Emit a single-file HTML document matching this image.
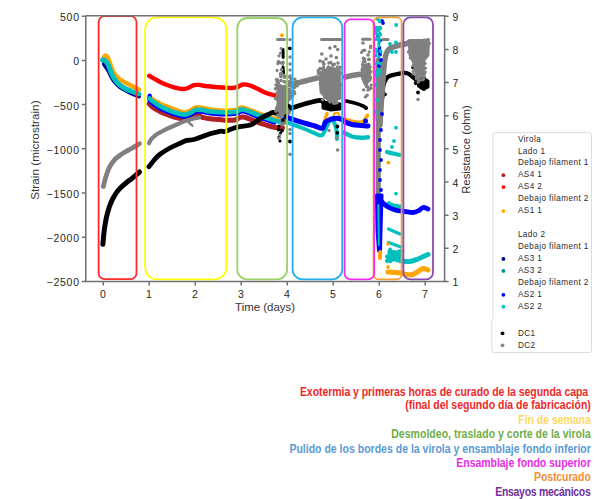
<!DOCTYPE html>
<html><head><meta charset="utf-8">
<style>
html,body{margin:0;padding:0;background:#fff;}
body{width:600px;height:499px;overflow:hidden;position:relative;font-family:"Liberation Sans",sans-serif;}
svg{position:absolute;left:0;top:0;}
.cap{position:absolute;right:10px;white-space:nowrap;font-weight:bold;font-size:11px;text-align:right;}
</style></head><body>
<svg width="600" height="499" viewBox="0 0 600 499">

<g><path d="M149.2 103.7 C149.8 104.3 151.2 106.2 153.0 107.5 C154.8 108.8 157.7 110.3 160.0 111.5 C162.3 112.7 164.5 113.5 167.0 114.5 C169.5 115.5 172.0 116.6 175.0 117.4 C178.0 118.2 182.3 119.1 185.0 119.2 C187.7 119.3 189.0 118.4 191.0 117.8 C193.0 117.2 195.0 115.5 197.0 115.5 C199.0 115.5 200.8 117.0 203.0 117.5 C205.2 118.0 207.2 118.5 210.0 118.8 C212.8 119.1 217.2 119.3 220.0 119.6 C222.8 119.8 224.5 120.2 227.0 120.3 C229.5 120.4 232.3 120.5 235.0 120.0 C237.7 119.5 238.8 116.5 243.0 117.0 C247.2 117.5 254.8 121.3 260.0 123.0 C265.2 124.7 270.2 126.4 274.0 127.2 C277.8 128.0 281.2 127.8 282.6 127.9" fill="none" stroke="#b22222" stroke-width="5" stroke-linecap="round" stroke-linejoin="round"/>
<path d="M149.2 75.8 C150.5 76.5 154.4 78.9 157.0 80.3 C159.6 81.7 162.0 83.1 165.0 84.3 C168.0 85.5 172.0 86.8 175.0 87.6 C178.0 88.4 180.8 88.9 183.0 89.0 C185.2 89.1 186.2 88.6 188.0 88.0 C189.8 87.4 192.2 85.7 194.0 85.2 C195.8 84.7 197.2 84.8 199.0 84.9 C200.8 85.0 202.3 85.7 205.0 86.0 C207.7 86.3 211.4 86.7 215.0 87.0 C218.6 87.3 223.9 87.6 226.7 87.8 C229.5 88.0 230.3 88.1 232.0 88.0 C233.7 87.9 235.1 87.8 237.0 87.2 C238.9 86.6 241.0 84.7 243.2 84.4 C245.4 84.1 247.8 84.8 250.0 85.5 C252.2 86.2 253.8 87.0 256.5 88.3 C259.2 89.5 263.1 91.8 266.1 93.0 C269.1 94.2 273.1 94.9 274.5 95.3" fill="none" stroke="#ff0000" stroke-width="4.4" stroke-linecap="round" stroke-linejoin="round"/>
<path d="M103.0 58.5 C103.4 58.0 104.7 55.6 105.5 55.5 C106.3 55.4 107.1 56.2 108.0 58.0 C108.9 59.8 110.0 63.5 111.0 66.0 C112.0 68.5 112.5 70.8 114.0 73.0 C115.5 75.2 117.3 77.5 120.0 79.5 C122.7 81.5 126.8 83.3 130.0 85.0 C133.2 86.7 137.5 88.8 139.0 89.5" fill="none" stroke="#ffa500" stroke-width="4.4" stroke-linecap="round" stroke-linejoin="round"/>
<path d="M149.5 96.5 C150.1 97.0 151.2 98.3 153.0 99.5 C154.8 100.7 157.7 102.3 160.0 103.5 C162.3 104.7 164.5 105.5 167.0 106.5 C169.5 107.5 172.0 108.5 175.0 109.5 C178.0 110.5 182.3 112.2 185.0 112.3 C187.7 112.4 189.2 110.8 191.0 110.0 C192.8 109.2 194.0 107.7 196.0 107.3 C198.0 106.9 200.7 107.5 203.0 107.8 C205.3 108.1 206.0 108.8 210.0 109.3 C214.0 109.8 222.5 110.5 227.0 110.5 C231.5 110.5 234.3 110.0 237.0 109.5 C239.7 109.0 239.4 106.8 243.2 107.5 C247.0 108.2 255.2 112.0 260.0 113.7 C264.8 115.5 269.2 117.1 272.0 118.0 C274.8 118.9 276.2 118.8 277.0 119.0" fill="none" stroke="#ffa500" stroke-width="4.2" stroke-linecap="round" stroke-linejoin="round"/>
<path d="M104.0 64.0 C104.7 65.0 106.8 68.0 108.0 70.0 C109.2 72.0 110.0 74.2 111.0 76.0 C112.0 77.8 112.5 79.2 114.0 81.0 C115.5 82.8 117.3 85.1 120.0 87.0 C122.7 88.9 126.8 91.0 130.0 92.5 C133.2 94.0 137.5 95.7 139.0 96.3" fill="none" stroke="#00008b" stroke-width="4.2" stroke-linecap="round" stroke-linejoin="round"/>
<path d="M149.7 95.5 C149.7 96.3 148.9 99.1 149.5 100.5 C150.1 101.9 151.2 102.7 153.0 104.0 C154.8 105.3 157.7 107.2 160.0 108.5 C162.3 109.8 164.5 110.5 167.0 111.5 C169.5 112.5 172.0 113.6 175.0 114.5 C178.0 115.4 182.3 116.8 185.0 116.8 C187.7 116.8 189.2 115.3 191.0 114.5 C192.8 113.7 194.0 112.2 196.0 111.8 C198.0 111.4 200.7 111.8 203.0 112.0 C205.3 112.2 206.0 112.9 210.0 113.3 C214.0 113.7 222.5 114.5 227.0 114.5 C231.5 114.5 234.3 114.0 237.0 113.5 C239.7 113.0 239.4 110.8 243.2 111.5 C247.0 112.2 254.8 115.9 260.0 117.7 C265.2 119.5 272.1 121.7 274.5 122.5" fill="none" stroke="#0000ff" stroke-width="4.2" stroke-linecap="round" stroke-linejoin="round"/>
<path d="M102.5 60.0 C102.9 60.1 104.1 59.8 105.0 60.5 C105.9 61.2 107.1 62.8 108.0 64.5 C108.9 66.2 109.6 68.8 110.5 71.0 C111.4 73.2 112.2 75.4 113.5 77.5 C114.8 79.6 116.1 81.7 118.0 83.5 C119.9 85.3 122.7 87.2 125.0 88.5 C127.3 89.8 129.7 90.6 132.0 91.5 C134.3 92.4 137.8 93.6 139.0 94.0" fill="none" stroke="#00bfbf" stroke-width="5" stroke-linecap="round" stroke-linejoin="round"/>
<path d="M149.5 98.5 C150.1 99.0 151.2 100.2 153.0 101.5 C154.8 102.8 157.7 105.0 160.0 106.3 C162.3 107.6 164.5 108.5 167.0 109.5 C169.5 110.5 172.0 111.6 175.0 112.5 C178.0 113.4 182.3 114.8 185.0 114.8 C187.7 114.8 189.2 113.3 191.0 112.5 C192.8 111.7 194.0 110.2 196.0 109.8 C198.0 109.4 200.7 109.7 203.0 110.0 C205.3 110.3 206.0 111.1 210.0 111.5 C214.0 111.9 222.5 112.5 227.0 112.5 C231.5 112.5 234.3 112.0 237.0 111.5 C239.7 111.0 239.4 108.8 243.2 109.5 C247.0 110.2 254.8 113.9 260.0 115.7 C265.2 117.5 270.8 119.5 274.5 120.5 C278.2 121.5 280.8 121.8 282.0 122.0" fill="none" stroke="#00bfbf" stroke-width="4.6" stroke-linecap="round" stroke-linejoin="round"/>
<path d="M324.0 127.0 C324.2 125.5 325.0 120.2 325.5 118.0 C326.0 115.8 326.8 114.2 327.0 113.5" fill="none" stroke="#ffa500" stroke-width="3.4" stroke-linecap="round" stroke-linejoin="round"/>
<circle cx="336.5" cy="115.5" r="2.8" fill="none" stroke="#ffa500" stroke-width="2"/>
<path d="M345.0 119.0 C346.0 119.3 349.2 120.5 351.0 121.0 C352.8 121.5 354.2 121.8 356.0 122.0 C357.8 122.2 360.4 122.6 362.0 122.0 C363.6 121.4 364.6 119.6 365.5 118.5 C366.4 117.4 367.2 116.0 367.5 115.5" fill="none" stroke="#ffa500" stroke-width="3.6" stroke-linecap="round" stroke-linejoin="round"/>
<path d="M285.0 121.5 C286.4 122.0 289.9 123.5 293.4 124.8 C296.9 126.1 302.4 128.1 306.0 129.5 C309.6 130.9 312.3 132.4 315.0 133.4 C317.7 134.4 320.2 136.2 322.0 135.3 C323.8 134.4 324.5 130.7 326.0 128.0 C327.5 125.3 329.7 120.0 331.0 119.0 C332.3 118.0 333.1 120.2 334.0 122.0 C334.9 123.8 336.0 127.2 336.5 130.0 C337.0 132.8 336.9 137.5 337.0 139.0" fill="none" stroke="#00bfbf" stroke-width="4.0" stroke-linecap="round" stroke-linejoin="round"/>
<path d="M344.0 132.5 C345.3 133.2 349.0 135.6 352.0 136.5 C355.0 137.4 359.3 137.7 362.0 137.8 C364.7 137.9 367.0 137.4 368.0 137.3" fill="none" stroke="#00bfbf" stroke-width="4.4" stroke-linecap="round" stroke-linejoin="round"/>
<path d="M285.0 116.6 C286.4 117.1 289.9 118.4 293.4 119.6 C296.9 120.8 302.4 122.4 306.0 123.5 C309.6 124.6 312.2 125.2 315.0 126.0 C317.8 126.8 320.8 129.0 322.5 128.3 C324.2 127.6 324.2 123.5 325.5 122.0 C326.8 120.5 328.1 120.1 330.0 119.5 C331.9 118.9 334.8 118.2 337.0 118.3 C339.2 118.4 341.7 119.4 343.0 120.0 C344.3 120.6 343.5 121.2 345.0 122.0 C346.5 122.8 349.2 123.9 352.0 124.5 C354.8 125.1 359.3 125.2 362.0 125.5 C364.7 125.8 367.0 125.9 368.0 126.0" fill="none" stroke="#0000ff" stroke-width="5.0" stroke-linecap="round" stroke-linejoin="round"/>
<circle cx="365.5" cy="121.0" r="2.5" fill="#0000ff"/>
<path d="M102.9 244.2 C103.1 241.8 103.7 234.4 104.3 230.0 C104.9 225.6 105.5 221.8 106.3 218.0 C107.1 214.2 108.2 210.3 109.3 207.0 C110.4 203.7 111.5 201.1 113.0 198.3 C114.5 195.6 116.0 192.9 118.0 190.5 C120.0 188.1 122.7 185.8 125.0 183.8 C127.3 181.8 129.6 180.3 132.0 178.3 C134.4 176.3 138.2 173.1 139.5 172.0" fill="none" stroke="#000000" stroke-width="5" stroke-linecap="round" stroke-linejoin="round"/>
<path d="M149.0 166.7 C149.8 165.6 152.2 162.3 154.0 160.2 C155.8 158.1 157.3 156.2 160.0 154.2 C162.7 152.2 166.7 149.8 170.0 148.0 C173.3 146.2 177.3 144.5 180.0 143.3 C182.7 142.1 183.5 141.3 186.0 140.6 C188.5 139.9 191.0 140.3 195.0 139.2 C199.0 138.1 205.8 135.1 210.0 133.8 C214.2 132.5 217.5 131.7 220.0 131.3 C222.5 130.9 223.0 131.9 225.0 131.5 C227.0 131.1 229.5 129.6 232.0 128.8 C234.5 128.0 237.3 127.2 240.0 126.7 C242.7 126.2 245.8 126.0 248.0 125.5 C250.2 125.0 251.0 124.9 253.0 123.8 C255.0 122.7 257.5 120.3 260.0 118.8 C262.5 117.2 265.8 115.5 268.0 114.5 C270.2 113.5 271.5 112.7 273.0 112.5 C274.5 112.3 275.5 113.4 277.0 113.3 C278.5 113.2 280.0 112.8 282.0 112.0 C284.0 111.2 287.1 109.3 289.0 108.5 C290.9 107.7 290.6 108.2 293.4 107.4 C296.2 106.6 301.6 104.7 306.0 103.5 C310.4 102.3 317.0 100.4 320.0 100.3 C323.0 100.2 323.3 102.5 324.0 103.0" fill="none" stroke="#000000" stroke-width="4.8" stroke-linecap="round" stroke-linejoin="round"/>
<polygon points="323.0,103.0 331.0,102.0 340.0,104.0 340.0,109.0 331.0,110.0 323.0,108.0" fill="#000000" stroke="#000000" stroke-width="3" stroke-linejoin="round"/>
<path d="M346.2 101.0 C347.6 101.3 351.8 102.3 354.6 103.1 C357.4 103.9 361.1 105.2 363.0 106.0 C364.9 106.8 365.5 107.7 366.0 108.0" fill="none" stroke="#000000" stroke-width="3.6" stroke-linecap="round" stroke-linejoin="round"/>
<path d="M382.5 97.0 C382.6 95.2 382.7 89.0 383.3 86.0 C383.9 83.0 384.9 80.7 386.0 79.0 C387.1 77.3 388.5 76.5 390.0 75.8 C391.5 75.0 393.2 74.9 395.0 74.5 C396.8 74.1 399.2 73.6 400.9 73.3 C402.6 73.0 403.6 72.7 405.0 72.8 C406.4 72.9 407.6 73.2 409.0 74.0 C410.4 74.8 411.8 76.2 413.5 77.5 C415.2 78.8 417.1 80.9 419.0 82.0 C420.9 83.1 423.8 83.7 424.7 84.0" fill="none" stroke="#000000" stroke-width="4.3" stroke-linecap="round" stroke-linejoin="round"/>
<polygon points="418.5,80.0 423.5,78.5 428.0,81.0 428.0,87.0 423.0,89.0 418.5,86.0" fill="#000000" stroke="#000000" stroke-width="3" stroke-linejoin="round"/>
<circle cx="419.7" cy="79.0" r="1.7" fill="#000000"/>
<circle cx="424.4" cy="77.9" r="1.7" fill="#000000"/>
<circle cx="422.8" cy="81.8" r="1.7" fill="#000000"/>
<circle cx="415.8" cy="83.6" r="1.7" fill="#000000"/>
<circle cx="415.5" cy="82.6" r="1.7" fill="#000000"/>
<circle cx="416.0" cy="78.2" r="1.7" fill="#000000"/>
<circle cx="421.2" cy="87.7" r="1.7" fill="#000000"/>
<circle cx="416.8" cy="79.9" r="1.7" fill="#000000"/>
<circle cx="424.1" cy="89.3" r="1.7" fill="#000000"/>
<circle cx="423.4" cy="82.2" r="1.7" fill="#000000"/>
<circle cx="413.0" cy="67.5" r="1.8" fill="#000000"/>
<circle cx="282.0" cy="35.2" r="1.9" fill="#ffa500"/>
<circle cx="279.0" cy="126.0" r="1.6" fill="#000000"/>
<circle cx="283.0" cy="124.0" r="1.6" fill="#000000"/>
<circle cx="280.5" cy="133.0" r="1.6" fill="#000000"/>
<circle cx="279.0" cy="137.0" r="1.6" fill="#000000"/>
<circle cx="280.0" cy="141.0" r="1.6" fill="#000000"/>
<circle cx="278.6" cy="129.5" r="1.9" fill="#000000"/>
<circle cx="282.0" cy="130.6" r="1.9" fill="#000000"/>
<circle cx="290.0" cy="141.5" r="1.9" fill="#000000"/>
<circle cx="337.4" cy="126.5" r="1.9" fill="#000000"/>
<circle cx="337.4" cy="132.8" r="1.9" fill="#000000"/>
<circle cx="289.8" cy="48.3" r="1.9" fill="#000000"/>
<circle cx="385.0" cy="94.3" r="1.9" fill="#000000"/>
<circle cx="418.0" cy="92.5" r="1.9" fill="#000000"/>
<circle cx="366.0" cy="108.0" r="1.9" fill="#000000"/>
<polyline points="283.0,49.6 283.2,57.4" fill="none" stroke="#000000" stroke-width="3" stroke-linecap="round" stroke-linejoin="round"/>
<polyline points="283.0,67.0 283.5,73.0" fill="none" stroke="#000000" stroke-width="3" stroke-linecap="round" stroke-linejoin="round"/>
<path d="M103.4 186.5 C103.8 185.1 104.7 180.7 105.5 178.0 C106.3 175.3 107.1 172.8 108.0 170.5 C108.9 168.2 109.8 166.4 111.0 164.5 C112.2 162.6 113.5 160.9 115.0 159.3 C116.5 157.8 118.3 156.4 120.0 155.2 C121.7 154.0 123.2 153.1 125.0 152.0 C126.8 150.9 128.6 150.2 131.0 148.8 C133.4 147.4 138.1 144.6 139.5 143.8" fill="none" stroke="#808080" stroke-width="4.8" stroke-linecap="round" stroke-linejoin="round"/>
<path d="M149.0 143.2 C149.3 142.6 150.2 140.6 151.0 139.5 C151.8 138.4 152.8 137.5 154.0 136.5 C155.2 135.5 156.5 134.4 158.0 133.5 C159.5 132.6 161.0 131.8 163.0 130.8 C165.0 129.8 167.5 128.6 170.0 127.5 C172.5 126.4 175.5 125.1 178.0 124.0 C180.5 122.9 182.7 121.8 185.0 121.0 C187.3 120.2 189.7 119.6 192.0 119.0 C194.3 118.4 197.8 117.8 199.0 117.5" fill="none" stroke="#808080" stroke-width="4.2" stroke-linecap="round" stroke-linejoin="round"/>
<polyline points="188.7,122.5 192.3,125.6" fill="none" stroke="#808080" stroke-width="2.5" stroke-linecap="round" stroke-linejoin="round"/>
<polyline points="277.5,39.6 284.5,39.6" fill="none" stroke="#808080" stroke-width="3" stroke-linecap="round" stroke-linejoin="round"/>
<polyline points="321.5,39.4 341.0,39.4" fill="none" stroke="#808080" stroke-width="3" stroke-linecap="round" stroke-linejoin="round"/>
<polyline points="362.5,39.2 370.0,39.2" fill="none" stroke="#808080" stroke-width="3" stroke-linecap="round" stroke-linejoin="round"/>
<polygon points="278.0,88.0 286.0,86.0 288.0,97.0 287.0,112.0 281.0,116.0 278.0,106.0" fill="#808080" stroke="#808080" stroke-width="3" stroke-linejoin="round"/>
<circle cx="289.6" cy="89.3" r="1.7" fill="#808080"/>
<circle cx="277.5" cy="80.2" r="1.7" fill="#808080"/>
<circle cx="280.2" cy="117.3" r="1.7" fill="#808080"/>
<circle cx="278.1" cy="104.8" r="1.7" fill="#808080"/>
<circle cx="285.9" cy="93.7" r="1.7" fill="#808080"/>
<circle cx="284.3" cy="77.3" r="1.7" fill="#808080"/>
<circle cx="276.0" cy="84.9" r="1.7" fill="#808080"/>
<circle cx="286.6" cy="96.7" r="1.7" fill="#808080"/>
<circle cx="280.3" cy="105.0" r="1.7" fill="#808080"/>
<circle cx="282.7" cy="89.9" r="1.7" fill="#808080"/>
<circle cx="288.5" cy="111.0" r="1.7" fill="#808080"/>
<circle cx="279.1" cy="104.4" r="1.7" fill="#808080"/>
<circle cx="283.9" cy="120.4" r="1.7" fill="#808080"/>
<circle cx="287.4" cy="89.3" r="1.7" fill="#808080"/>
<circle cx="282.1" cy="114.1" r="1.7" fill="#808080"/>
<circle cx="277.6" cy="99.9" r="1.7" fill="#808080"/>
<circle cx="288.0" cy="104.4" r="1.7" fill="#808080"/>
<circle cx="289.9" cy="90.6" r="1.7" fill="#808080"/>
<circle cx="286.8" cy="105.5" r="1.7" fill="#808080"/>
<circle cx="284.9" cy="98.2" r="1.7" fill="#808080"/>
<circle cx="283.1" cy="109.2" r="1.7" fill="#808080"/>
<circle cx="276.0" cy="111.2" r="1.7" fill="#808080"/>
<circle cx="289.0" cy="89.1" r="1.7" fill="#808080"/>
<circle cx="281.6" cy="109.4" r="1.7" fill="#808080"/>
<circle cx="275.4" cy="98.5" r="1.7" fill="#808080"/>
<circle cx="277.9" cy="80.2" r="1.7" fill="#808080"/>
<circle cx="277.2" cy="87.1" r="1.7" fill="#808080"/>
<circle cx="281.6" cy="120.2" r="1.7" fill="#808080"/>
<circle cx="276.4" cy="97.8" r="1.7" fill="#808080"/>
<circle cx="284.3" cy="120.8" r="1.7" fill="#808080"/>
<circle cx="279.7" cy="96.0" r="1.7" fill="#808080"/>
<circle cx="281.1" cy="120.9" r="1.7" fill="#808080"/>
<circle cx="278.0" cy="86.3" r="1.7" fill="#808080"/>
<circle cx="279.0" cy="99.7" r="1.7" fill="#808080"/>
<circle cx="285.0" cy="87.9" r="1.7" fill="#808080"/>
<circle cx="281.3" cy="104.0" r="1.7" fill="#808080"/>
<circle cx="283.8" cy="106.7" r="1.7" fill="#808080"/>
<circle cx="286.5" cy="76.9" r="1.7" fill="#808080"/>
<circle cx="281.7" cy="95.1" r="1.7" fill="#808080"/>
<circle cx="276.8" cy="107.6" r="1.7" fill="#808080"/>
<circle cx="278.5" cy="82.6" r="1.7" fill="#808080"/>
<circle cx="280.8" cy="76.8" r="1.7" fill="#808080"/>
<circle cx="276.7" cy="93.3" r="1.7" fill="#808080"/>
<circle cx="285.4" cy="81.9" r="1.7" fill="#808080"/>
<circle cx="279.3" cy="92.4" r="1.7" fill="#808080"/>
<circle cx="281.2" cy="80.5" r="1.7" fill="#808080"/>
<circle cx="282.9" cy="99.6" r="1.7" fill="#808080"/>
<circle cx="276.5" cy="79.4" r="1.7" fill="#808080"/>
<circle cx="280.8" cy="88.0" r="1.7" fill="#808080"/>
<circle cx="289.1" cy="82.6" r="1.7" fill="#808080"/>
<circle cx="284.0" cy="81.8" r="1.7" fill="#808080"/>
<circle cx="284.2" cy="75.4" r="1.7" fill="#808080"/>
<circle cx="289.7" cy="110.9" r="1.7" fill="#808080"/>
<circle cx="279.4" cy="93.4" r="1.7" fill="#808080"/>
<circle cx="277.8" cy="114.9" r="1.7" fill="#808080"/>
<circle cx="284.1" cy="115.3" r="1.7" fill="#808080"/>
<circle cx="280.6" cy="85.8" r="1.7" fill="#808080"/>
<circle cx="288.9" cy="113.2" r="1.7" fill="#808080"/>
<circle cx="278.9" cy="101.4" r="1.7" fill="#808080"/>
<circle cx="281.0" cy="75.5" r="1.7" fill="#808080"/>
<circle cx="275.5" cy="88.8" r="1.7" fill="#808080"/>
<circle cx="279.4" cy="110.7" r="1.7" fill="#808080"/>
<circle cx="291.3" cy="97.7" r="1.7" fill="#808080"/>
<circle cx="291.2" cy="93.3" r="1.7" fill="#808080"/>
<circle cx="278.7" cy="86.0" r="1.7" fill="#808080"/>
<circle cx="278.3" cy="84.8" r="1.7" fill="#808080"/>
<circle cx="285.6" cy="121.7" r="1.7" fill="#808080"/>
<circle cx="289.3" cy="99.4" r="1.7" fill="#808080"/>
<circle cx="286.1" cy="116.4" r="1.7" fill="#808080"/>
<circle cx="276.4" cy="109.0" r="1.7" fill="#808080"/>
<circle cx="287.8" cy="99.3" r="1.7" fill="#808080"/>
<circle cx="278.0" cy="115.8" r="1.7" fill="#808080"/>
<circle cx="280.7" cy="116.4" r="1.7" fill="#808080"/>
<circle cx="291.5" cy="95.0" r="1.7" fill="#808080"/>
<circle cx="281.8" cy="124.2" r="1.7" fill="#808080"/>
<circle cx="287.3" cy="83.0" r="1.7" fill="#808080"/>
<circle cx="277.2" cy="82.0" r="1.7" fill="#808080"/>
<circle cx="281.0" cy="103.1" r="1.7" fill="#808080"/>
<circle cx="284.0" cy="123.5" r="1.7" fill="#808080"/>
<circle cx="282.4" cy="120.2" r="1.7" fill="#808080"/>
<circle cx="289.0" cy="85.2" r="1.7" fill="#808080"/>
<circle cx="279.3" cy="89.5" r="1.7" fill="#808080"/>
<circle cx="279.1" cy="105.1" r="1.7" fill="#808080"/>
<circle cx="279.4" cy="96.2" r="1.7" fill="#808080"/>
<circle cx="281.0" cy="98.3" r="1.7" fill="#808080"/>
<circle cx="289.0" cy="106.0" r="1.9" fill="#000000"/>
<circle cx="291.0" cy="108.5" r="1.9" fill="#000000"/>
<circle cx="283.0" cy="120.0" r="1.9" fill="#000000"/>
<circle cx="286.0" cy="116.0" r="1.9" fill="#000000"/>
<circle cx="281.7" cy="73.3" r="1.6" fill="#808080"/>
<circle cx="280.4" cy="73.7" r="1.6" fill="#808080"/>
<circle cx="281.0" cy="62.9" r="1.6" fill="#808080"/>
<circle cx="281.2" cy="48.5" r="1.6" fill="#808080"/>
<circle cx="280.5" cy="53.1" r="1.6" fill="#808080"/>
<circle cx="277.0" cy="70.4" r="1.6" fill="#808080"/>
<circle cx="278.4" cy="61.3" r="1.6" fill="#808080"/>
<circle cx="282.8" cy="63.6" r="1.6" fill="#808080"/>
<circle cx="279.6" cy="62.5" r="1.6" fill="#808080"/>
<circle cx="281.4" cy="70.0" r="1.6" fill="#808080"/>
<circle cx="277.8" cy="63.7" r="1.6" fill="#808080"/>
<circle cx="279.0" cy="55.8" r="1.6" fill="#808080"/>
<circle cx="283.2" cy="62.2" r="1.6" fill="#808080"/>
<circle cx="281.5" cy="69.3" r="1.6" fill="#808080"/>
<circle cx="290.0" cy="39.6" r="1.7" fill="#808080"/>
<circle cx="290.0" cy="57.0" r="1.7" fill="#808080"/>
<circle cx="290.0" cy="64.0" r="1.7" fill="#808080"/>
<circle cx="290.0" cy="70.0" r="1.7" fill="#808080"/>
<circle cx="290.0" cy="76.0" r="1.7" fill="#808080"/>
<circle cx="290.0" cy="129.5" r="1.7" fill="#808080"/>
<circle cx="290.0" cy="133.5" r="1.7" fill="#808080"/>
<circle cx="290.0" cy="154.3" r="1.7" fill="#808080"/>
<circle cx="279.6" cy="135.0" r="1.7" fill="#808080"/>
<circle cx="279.0" cy="138.5" r="1.7" fill="#808080"/>
<circle cx="337.5" cy="138.0" r="1.7" fill="#808080"/>
<circle cx="337.6" cy="150.0" r="1.7" fill="#808080"/>
<circle cx="329.0" cy="130.5" r="1.7" fill="#808080"/>
<circle cx="418.0" cy="99.5" r="1.7" fill="#808080"/>
<circle cx="297.2" cy="85.8" r="1.7" fill="#808080"/>
<circle cx="294.5" cy="87.1" r="1.7" fill="#808080"/>
<circle cx="293.6" cy="91.2" r="1.7" fill="#808080"/>
<circle cx="293.1" cy="87.7" r="1.7" fill="#808080"/>
<circle cx="297.5" cy="81.7" r="1.7" fill="#808080"/>
<circle cx="290.1" cy="85.7" r="1.7" fill="#808080"/>
<circle cx="289.7" cy="81.3" r="1.7" fill="#808080"/>
<circle cx="289.7" cy="90.7" r="1.7" fill="#808080"/>
<circle cx="290.4" cy="91.8" r="1.7" fill="#808080"/>
<circle cx="294.9" cy="79.1" r="1.7" fill="#808080"/>
<circle cx="291.0" cy="97.0" r="1.7" fill="#808080"/>
<circle cx="292.6" cy="86.7" r="1.7" fill="#808080"/>
<circle cx="290.5" cy="85.5" r="1.7" fill="#808080"/>
<circle cx="293.6" cy="83.5" r="1.7" fill="#808080"/>
<circle cx="290.8" cy="83.0" r="1.7" fill="#808080"/>
<circle cx="294.0" cy="85.7" r="1.7" fill="#808080"/>
<circle cx="289.2" cy="83.3" r="1.7" fill="#808080"/>
<circle cx="294.6" cy="87.3" r="1.7" fill="#808080"/>
<circle cx="289.6" cy="97.7" r="1.7" fill="#808080"/>
<circle cx="289.9" cy="81.8" r="1.7" fill="#808080"/>
<circle cx="289.4" cy="93.1" r="1.7" fill="#808080"/>
<circle cx="291.4" cy="78.9" r="1.7" fill="#808080"/>
<circle cx="292.8" cy="96.1" r="1.7" fill="#808080"/>
<circle cx="296.4" cy="81.7" r="1.7" fill="#808080"/>
<circle cx="290.3" cy="96.2" r="1.7" fill="#808080"/>
<circle cx="294.1" cy="91.4" r="1.7" fill="#808080"/>
<circle cx="289.8" cy="77.3" r="1.7" fill="#808080"/>
<circle cx="295.2" cy="85.4" r="1.7" fill="#808080"/>
<circle cx="289.7" cy="96.6" r="1.7" fill="#808080"/>
<circle cx="294.7" cy="93.6" r="1.7" fill="#808080"/>
<path d="M293.0 84.0 C295.0 83.5 301.0 82.0 305.0 81.0 C309.0 80.0 315.0 78.5 317.0 78.0" fill="none" stroke="#808080" stroke-width="5.5" stroke-linecap="round" stroke-linejoin="round"/>
<polygon points="320.0,73.0 330.0,68.0 339.0,70.0 340.0,98.0 330.0,102.0 321.0,92.0" fill="#808080" stroke="#808080" stroke-width="3" stroke-linejoin="round"/>
<circle cx="328.1" cy="76.2" r="1.7" fill="#808080"/>
<circle cx="330.6" cy="100.9" r="1.7" fill="#808080"/>
<circle cx="323.6" cy="67.4" r="1.7" fill="#808080"/>
<circle cx="329.9" cy="72.0" r="1.7" fill="#808080"/>
<circle cx="319.7" cy="68.8" r="1.7" fill="#808080"/>
<circle cx="318.2" cy="70.5" r="1.7" fill="#808080"/>
<circle cx="324.6" cy="74.8" r="1.7" fill="#808080"/>
<circle cx="335.6" cy="74.2" r="1.7" fill="#808080"/>
<circle cx="329.3" cy="69.5" r="1.7" fill="#808080"/>
<circle cx="335.0" cy="85.1" r="1.7" fill="#808080"/>
<circle cx="321.6" cy="81.9" r="1.7" fill="#808080"/>
<circle cx="337.1" cy="80.2" r="1.7" fill="#808080"/>
<circle cx="329.1" cy="97.1" r="1.7" fill="#808080"/>
<circle cx="326.6" cy="83.3" r="1.7" fill="#808080"/>
<circle cx="333.8" cy="103.3" r="1.7" fill="#808080"/>
<circle cx="325.4" cy="97.0" r="1.7" fill="#808080"/>
<circle cx="334.3" cy="88.7" r="1.7" fill="#808080"/>
<circle cx="326.9" cy="76.6" r="1.7" fill="#808080"/>
<circle cx="323.3" cy="68.9" r="1.7" fill="#808080"/>
<circle cx="338.3" cy="90.2" r="1.7" fill="#808080"/>
<circle cx="323.9" cy="72.2" r="1.7" fill="#808080"/>
<circle cx="324.2" cy="81.3" r="1.7" fill="#808080"/>
<circle cx="320.9" cy="80.7" r="1.7" fill="#808080"/>
<circle cx="340.8" cy="85.0" r="1.7" fill="#808080"/>
<circle cx="324.6" cy="77.0" r="1.7" fill="#808080"/>
<circle cx="328.6" cy="83.1" r="1.7" fill="#808080"/>
<circle cx="321.9" cy="83.2" r="1.7" fill="#808080"/>
<circle cx="319.2" cy="78.8" r="1.7" fill="#808080"/>
<circle cx="324.5" cy="71.8" r="1.7" fill="#808080"/>
<circle cx="331.3" cy="84.2" r="1.7" fill="#808080"/>
<circle cx="335.4" cy="89.6" r="1.7" fill="#808080"/>
<circle cx="334.5" cy="98.9" r="1.7" fill="#808080"/>
<circle cx="326.5" cy="75.7" r="1.7" fill="#808080"/>
<circle cx="334.7" cy="89.0" r="1.7" fill="#808080"/>
<circle cx="338.9" cy="88.3" r="1.7" fill="#808080"/>
<circle cx="335.0" cy="96.1" r="1.7" fill="#808080"/>
<circle cx="320.4" cy="84.0" r="1.7" fill="#808080"/>
<circle cx="329.4" cy="97.1" r="1.7" fill="#808080"/>
<circle cx="336.7" cy="96.7" r="1.7" fill="#808080"/>
<circle cx="331.3" cy="99.5" r="1.7" fill="#808080"/>
<circle cx="333.7" cy="91.1" r="1.7" fill="#808080"/>
<circle cx="320.3" cy="77.1" r="1.7" fill="#808080"/>
<circle cx="330.7" cy="88.4" r="1.7" fill="#808080"/>
<circle cx="332.3" cy="90.6" r="1.7" fill="#808080"/>
<circle cx="336.5" cy="93.4" r="1.7" fill="#808080"/>
<circle cx="329.3" cy="84.5" r="1.7" fill="#808080"/>
<circle cx="333.2" cy="64.8" r="1.7" fill="#808080"/>
<circle cx="335.1" cy="72.6" r="1.7" fill="#808080"/>
<circle cx="318.8" cy="73.2" r="1.7" fill="#808080"/>
<circle cx="334.9" cy="70.6" r="1.7" fill="#808080"/>
<circle cx="335.1" cy="103.0" r="1.7" fill="#808080"/>
<circle cx="329.1" cy="78.1" r="1.7" fill="#808080"/>
<circle cx="328.7" cy="90.7" r="1.7" fill="#808080"/>
<circle cx="335.8" cy="87.9" r="1.7" fill="#808080"/>
<circle cx="332.7" cy="65.3" r="1.7" fill="#808080"/>
<circle cx="320.6" cy="72.7" r="1.7" fill="#808080"/>
<circle cx="335.2" cy="74.8" r="1.7" fill="#808080"/>
<circle cx="330.9" cy="62.5" r="1.7" fill="#808080"/>
<circle cx="318.5" cy="73.3" r="1.7" fill="#808080"/>
<circle cx="333.5" cy="91.1" r="1.7" fill="#808080"/>
<circle cx="333.6" cy="74.2" r="1.7" fill="#808080"/>
<circle cx="329.7" cy="81.5" r="1.7" fill="#808080"/>
<circle cx="328.4" cy="67.0" r="1.7" fill="#808080"/>
<circle cx="338.9" cy="70.4" r="1.7" fill="#808080"/>
<circle cx="337.1" cy="102.7" r="1.7" fill="#808080"/>
<circle cx="328.0" cy="73.3" r="1.7" fill="#808080"/>
<circle cx="322.2" cy="86.4" r="1.7" fill="#808080"/>
<circle cx="320.5" cy="84.0" r="1.7" fill="#808080"/>
<circle cx="340.3" cy="67.6" r="1.7" fill="#808080"/>
<circle cx="337.1" cy="83.4" r="1.7" fill="#808080"/>
<circle cx="338.7" cy="91.5" r="1.7" fill="#808080"/>
<circle cx="322.7" cy="99.7" r="1.7" fill="#808080"/>
<circle cx="328.9" cy="63.0" r="1.7" fill="#808080"/>
<circle cx="328.0" cy="74.7" r="1.7" fill="#808080"/>
<circle cx="320.4" cy="76.4" r="1.7" fill="#808080"/>
<circle cx="324.7" cy="97.3" r="1.7" fill="#808080"/>
<circle cx="337.6" cy="67.0" r="1.7" fill="#808080"/>
<circle cx="339.7" cy="91.9" r="1.7" fill="#808080"/>
<circle cx="339.1" cy="74.2" r="1.7" fill="#808080"/>
<circle cx="326.1" cy="78.5" r="1.7" fill="#808080"/>
<circle cx="325.8" cy="80.0" r="1.7" fill="#808080"/>
<circle cx="323.7" cy="64.0" r="1.7" fill="#808080"/>
<circle cx="323.1" cy="73.2" r="1.7" fill="#808080"/>
<circle cx="329.5" cy="70.0" r="1.7" fill="#808080"/>
<circle cx="338.7" cy="96.1" r="1.7" fill="#808080"/>
<circle cx="332.5" cy="100.4" r="1.7" fill="#808080"/>
<circle cx="340.0" cy="85.1" r="1.7" fill="#808080"/>
<circle cx="334.6" cy="64.1" r="1.7" fill="#808080"/>
<circle cx="334.9" cy="80.9" r="1.7" fill="#808080"/>
<circle cx="335.4" cy="89.1" r="1.7" fill="#808080"/>
<circle cx="324.0" cy="64.1" r="1.7" fill="#808080"/>
<circle cx="339.7" cy="67.3" r="1.7" fill="#808080"/>
<circle cx="328.6" cy="76.4" r="1.7" fill="#808080"/>
<circle cx="324.3" cy="93.0" r="1.7" fill="#808080"/>
<circle cx="340.9" cy="72.9" r="1.7" fill="#808080"/>
<circle cx="333.1" cy="74.6" r="1.7" fill="#808080"/>
<circle cx="330.7" cy="78.6" r="1.7" fill="#808080"/>
<circle cx="321.1" cy="68.8" r="1.7" fill="#808080"/>
<circle cx="329.2" cy="71.2" r="1.7" fill="#808080"/>
<circle cx="328.0" cy="67.9" r="1.7" fill="#808080"/>
<circle cx="329.9" cy="48.1" r="1.8" fill="#808080"/>
<circle cx="335.0" cy="46.5" r="1.8" fill="#808080"/>
<circle cx="337.7" cy="49.5" r="1.8" fill="#808080"/>
<circle cx="321.8" cy="54.0" r="1.8" fill="#808080"/>
<circle cx="331.0" cy="56.0" r="1.8" fill="#808080"/>
<circle cx="336.4" cy="57.5" r="1.8" fill="#808080"/>
<circle cx="323.0" cy="62.0" r="1.8" fill="#808080"/>
<circle cx="320.0" cy="61.0" r="1.8" fill="#808080"/>
<circle cx="338.0" cy="63.0" r="1.8" fill="#808080"/>
<circle cx="326.0" cy="59.0" r="1.8" fill="#808080"/>
<path d="M345.5 77.0 C346.6 76.8 349.2 76.0 352.0 75.5 C354.8 75.0 360.7 74.2 362.4 74.0" fill="none" stroke="#808080" stroke-width="5.5" stroke-linecap="round" stroke-linejoin="round"/>
<polygon points="363.0,66.0 369.0,64.0 370.0,80.0 365.0,84.0 362.5,78.0" fill="#808080" stroke="#808080" stroke-width="3" stroke-linejoin="round"/>
<circle cx="363.4" cy="61.8" r="1.7" fill="#808080"/>
<circle cx="364.9" cy="61.8" r="1.7" fill="#808080"/>
<circle cx="363.9" cy="68.9" r="1.7" fill="#808080"/>
<circle cx="367.2" cy="95.3" r="1.7" fill="#808080"/>
<circle cx="369.0" cy="75.3" r="1.7" fill="#808080"/>
<circle cx="365.6" cy="80.0" r="1.7" fill="#808080"/>
<circle cx="365.3" cy="72.2" r="1.7" fill="#808080"/>
<circle cx="362.1" cy="69.7" r="1.7" fill="#808080"/>
<circle cx="366.5" cy="84.4" r="1.7" fill="#808080"/>
<circle cx="370.1" cy="67.1" r="1.7" fill="#808080"/>
<circle cx="364.2" cy="68.4" r="1.7" fill="#808080"/>
<circle cx="365.5" cy="76.7" r="1.7" fill="#808080"/>
<circle cx="370.5" cy="77.9" r="1.7" fill="#808080"/>
<circle cx="365.4" cy="96.9" r="1.7" fill="#808080"/>
<circle cx="362.6" cy="64.5" r="1.7" fill="#808080"/>
<circle cx="366.7" cy="86.6" r="1.7" fill="#808080"/>
<circle cx="370.9" cy="88.3" r="1.7" fill="#808080"/>
<circle cx="368.0" cy="90.1" r="1.7" fill="#808080"/>
<circle cx="366.1" cy="81.2" r="1.7" fill="#808080"/>
<circle cx="368.0" cy="70.8" r="1.7" fill="#808080"/>
<circle cx="362.8" cy="68.6" r="1.7" fill="#808080"/>
<circle cx="367.9" cy="87.3" r="1.7" fill="#808080"/>
<circle cx="366.7" cy="82.5" r="1.7" fill="#808080"/>
<circle cx="365.4" cy="67.4" r="1.7" fill="#808080"/>
<circle cx="364.5" cy="77.3" r="1.7" fill="#808080"/>
<circle cx="371.1" cy="85.1" r="1.7" fill="#808080"/>
<circle cx="370.3" cy="78.0" r="1.7" fill="#808080"/>
<circle cx="363.8" cy="68.4" r="1.7" fill="#808080"/>
<circle cx="366.5" cy="86.3" r="1.7" fill="#808080"/>
<circle cx="365.7" cy="68.8" r="1.7" fill="#808080"/>
<circle cx="364.9" cy="75.7" r="1.7" fill="#808080"/>
<circle cx="368.3" cy="66.3" r="1.7" fill="#808080"/>
<circle cx="369.5" cy="89.0" r="1.7" fill="#808080"/>
<circle cx="366.5" cy="66.6" r="1.7" fill="#808080"/>
<circle cx="369.7" cy="67.7" r="1.7" fill="#808080"/>
<circle cx="363.7" cy="89.9" r="1.7" fill="#808080"/>
<circle cx="366.5" cy="65.9" r="1.7" fill="#808080"/>
<circle cx="363.7" cy="75.5" r="1.7" fill="#808080"/>
<circle cx="363.0" cy="74.5" r="1.7" fill="#808080"/>
<circle cx="362.1" cy="74.5" r="1.7" fill="#808080"/>
<circle cx="370.8" cy="71.8" r="1.7" fill="#808080"/>
<circle cx="369.0" cy="59.3" r="1.7" fill="#808080"/>
<circle cx="368.1" cy="73.9" r="1.7" fill="#808080"/>
<circle cx="365.2" cy="71.9" r="1.7" fill="#808080"/>
<circle cx="364.3" cy="72.8" r="1.7" fill="#808080"/>
<circle cx="370.6" cy="46.2" r="1.6" fill="#808080"/>
<circle cx="370.6" cy="47.7" r="1.6" fill="#808080"/>
<circle cx="364.6" cy="58.8" r="1.6" fill="#808080"/>
<circle cx="369.2" cy="51.8" r="1.6" fill="#808080"/>
<circle cx="361.5" cy="52.5" r="1.6" fill="#808080"/>
<circle cx="364.7" cy="60.6" r="1.6" fill="#808080"/>
<circle cx="362.9" cy="50.6" r="1.6" fill="#808080"/>
<circle cx="363.0" cy="43.0" r="1.8" fill="#808080"/>
<circle cx="364.5" cy="50.3" r="1.8" fill="#808080"/>
<circle cx="368.0" cy="55.0" r="1.8" fill="#808080"/>
<circle cx="363.5" cy="58.3" r="1.8" fill="#808080"/>
<circle cx="369.0" cy="59.5" r="1.8" fill="#808080"/>
<polyline points="378.3,60.0 378.3,195.0" fill="none" stroke="#808080" stroke-width="5" stroke-linecap="round" stroke-linejoin="round"/>
<path d="M380.0 125.0 C380.2 120.8 381.0 107.5 381.5 100.0 C382.0 92.5 382.5 86.3 383.0 80.0 C383.5 73.7 383.9 66.5 384.5 62.0 C385.1 57.5 385.6 55.2 386.5 53.0 C387.4 50.8 388.6 49.6 390.0 48.5 C391.4 47.4 393.0 47.2 395.0 46.5 C397.0 45.8 399.8 45.0 402.0 44.5 C404.2 44.0 407.0 43.7 408.0 43.5" fill="none" stroke="#808080" stroke-width="5.5" stroke-linecap="round" stroke-linejoin="round"/>
<polygon points="377.0,60.0 383.0,62.0 381.5,100.0 380.0,120.0 377.0,120.0" fill="#808080" stroke="#808080" stroke-width="3" stroke-linejoin="round"/>
<polygon points="409.5,40.5 428.0,40.5 428.0,55.0 424.0,60.0 423.0,74.0 419.0,78.0 416.0,72.0 413.0,60.0 410.0,55.0" fill="#808080" stroke="#808080" stroke-width="3" stroke-linejoin="round"/>
<circle cx="427.2" cy="39.9" r="1.7" fill="#808080"/>
<circle cx="416.5" cy="75.4" r="1.7" fill="#808080"/>
<circle cx="424.4" cy="40.3" r="1.7" fill="#808080"/>
<circle cx="408.3" cy="41.3" r="1.7" fill="#808080"/>
<circle cx="427.7" cy="50.2" r="1.7" fill="#808080"/>
<circle cx="415.0" cy="50.9" r="1.7" fill="#808080"/>
<circle cx="413.3" cy="71.1" r="1.7" fill="#808080"/>
<circle cx="414.5" cy="51.0" r="1.7" fill="#808080"/>
<circle cx="428.3" cy="39.6" r="1.7" fill="#808080"/>
<circle cx="412.6" cy="60.1" r="1.7" fill="#808080"/>
<circle cx="416.0" cy="49.9" r="1.7" fill="#808080"/>
<circle cx="417.0" cy="61.0" r="1.7" fill="#808080"/>
<circle cx="427.9" cy="46.8" r="1.7" fill="#808080"/>
<circle cx="425.2" cy="72.1" r="1.7" fill="#808080"/>
<circle cx="420.9" cy="53.4" r="1.7" fill="#808080"/>
<circle cx="414.5" cy="55.0" r="1.7" fill="#808080"/>
<circle cx="424.7" cy="42.1" r="1.7" fill="#808080"/>
<circle cx="412.9" cy="41.4" r="1.7" fill="#808080"/>
<circle cx="413.3" cy="42.3" r="1.7" fill="#808080"/>
<circle cx="423.1" cy="58.8" r="1.7" fill="#808080"/>
<circle cx="412.7" cy="57.5" r="1.7" fill="#808080"/>
<circle cx="421.1" cy="69.2" r="1.7" fill="#808080"/>
<circle cx="424.0" cy="77.0" r="1.7" fill="#808080"/>
<circle cx="422.1" cy="44.0" r="1.7" fill="#808080"/>
<circle cx="426.0" cy="51.9" r="1.7" fill="#808080"/>
<circle cx="420.0" cy="55.5" r="1.7" fill="#808080"/>
<circle cx="423.7" cy="47.6" r="1.7" fill="#808080"/>
<circle cx="412.9" cy="49.7" r="1.7" fill="#808080"/>
<circle cx="420.2" cy="53.3" r="1.7" fill="#808080"/>
<circle cx="418.7" cy="49.0" r="1.7" fill="#808080"/>
<circle cx="425.3" cy="68.2" r="1.7" fill="#808080"/>
<circle cx="429.3" cy="43.2" r="1.7" fill="#808080"/>
<circle cx="417.9" cy="75.8" r="1.7" fill="#808080"/>
<circle cx="408.4" cy="51.9" r="1.7" fill="#808080"/>
<circle cx="410.1" cy="47.1" r="1.7" fill="#808080"/>
<circle cx="413.2" cy="73.9" r="1.7" fill="#808080"/>
<circle cx="428.3" cy="43.3" r="1.7" fill="#808080"/>
<circle cx="420.6" cy="66.7" r="1.7" fill="#808080"/>
<circle cx="412.3" cy="55.3" r="1.7" fill="#808080"/>
<circle cx="410.6" cy="47.8" r="1.7" fill="#808080"/>
<circle cx="413.1" cy="65.8" r="1.7" fill="#808080"/>
<circle cx="421.8" cy="47.8" r="1.7" fill="#808080"/>
<circle cx="422.4" cy="46.9" r="1.7" fill="#808080"/>
<circle cx="414.4" cy="47.8" r="1.7" fill="#808080"/>
<circle cx="425.0" cy="63.4" r="1.7" fill="#808080"/>
<circle cx="408.9" cy="43.1" r="1.7" fill="#808080"/>
<circle cx="416.2" cy="63.5" r="1.7" fill="#808080"/>
<circle cx="421.6" cy="42.6" r="1.7" fill="#808080"/>
<circle cx="416.5" cy="51.4" r="1.7" fill="#808080"/>
<circle cx="414.4" cy="64.3" r="1.7" fill="#808080"/>
<circle cx="415.4" cy="57.4" r="1.7" fill="#808080"/>
<circle cx="415.5" cy="47.5" r="1.7" fill="#808080"/>
<circle cx="423.5" cy="47.8" r="1.7" fill="#808080"/>
<circle cx="416.8" cy="75.8" r="1.7" fill="#808080"/>
<circle cx="416.4" cy="78.7" r="1.7" fill="#808080"/>
<circle cx="417.6" cy="45.9" r="1.7" fill="#808080"/>
<circle cx="421.6" cy="79.9" r="1.7" fill="#808080"/>
<circle cx="415.7" cy="61.5" r="1.7" fill="#808080"/>
<circle cx="410.7" cy="51.4" r="1.7" fill="#808080"/>
<circle cx="419.0" cy="80.6" r="1.7" fill="#808080"/>
<circle cx="411.8" cy="44.3" r="1.7" fill="#808080"/>
<circle cx="418.1" cy="40.9" r="1.7" fill="#808080"/>
<circle cx="425.6" cy="45.8" r="1.7" fill="#808080"/>
<circle cx="424.8" cy="48.6" r="1.7" fill="#808080"/>
<circle cx="416.4" cy="77.0" r="1.7" fill="#808080"/>
<circle cx="425.7" cy="46.8" r="1.7" fill="#808080"/>
<circle cx="412.3" cy="56.7" r="1.7" fill="#808080"/>
<circle cx="418.9" cy="56.0" r="1.7" fill="#808080"/>
<circle cx="410.2" cy="49.7" r="1.7" fill="#808080"/>
<circle cx="423.4" cy="79.3" r="1.7" fill="#808080"/>
<circle cx="424.2" cy="40.2" r="1.7" fill="#808080"/>
<circle cx="425.9" cy="43.9" r="1.7" fill="#808080"/>
<circle cx="420.7" cy="63.5" r="1.7" fill="#808080"/>
<circle cx="421.3" cy="52.4" r="1.7" fill="#808080"/>
<circle cx="416.7" cy="65.0" r="1.7" fill="#808080"/>
<circle cx="416.9" cy="68.5" r="1.7" fill="#808080"/>
<circle cx="417.3" cy="58.4" r="1.7" fill="#808080"/>
<circle cx="418.3" cy="49.2" r="1.7" fill="#808080"/>
<circle cx="424.3" cy="74.0" r="1.7" fill="#808080"/>
<circle cx="417.6" cy="46.7" r="1.7" fill="#808080"/>
<circle cx="417.9" cy="43.4" r="1.7" fill="#808080"/>
<circle cx="410.3" cy="58.1" r="1.7" fill="#808080"/>
<circle cx="418.7" cy="40.4" r="1.7" fill="#808080"/>
<circle cx="421.5" cy="42.2" r="1.7" fill="#808080"/>
<circle cx="423.6" cy="73.9" r="1.7" fill="#808080"/>
<circle cx="418.8" cy="41.0" r="1.7" fill="#808080"/>
<circle cx="418.6" cy="55.7" r="1.7" fill="#808080"/>
<circle cx="428.4" cy="44.7" r="1.7" fill="#808080"/>
<circle cx="423.6" cy="75.6" r="1.7" fill="#808080"/>
<circle cx="418.3" cy="82.0" r="1.7" fill="#808080"/>
<polyline points="383.0,39.4 388.0,39.4" fill="none" stroke="#808080" stroke-width="3" stroke-linecap="round" stroke-linejoin="round"/>
<circle cx="382.0" cy="21.0" r="1.9" fill="#0000ff"/>
<circle cx="383.0" cy="23.0" r="1.9" fill="#0000ff"/>
<circle cx="380.0" cy="40.5" r="1.9" fill="#0000ff"/>
<circle cx="379.5" cy="48.0" r="1.9" fill="#0000ff"/>
<circle cx="379.0" cy="51.0" r="1.9" fill="#0000ff"/>
<circle cx="380.0" cy="54.5" r="1.9" fill="#0000ff"/>
<circle cx="377.0" cy="28.0" r="1.9" fill="#0000ff"/>
<circle cx="378.0" cy="36.0" r="1.9" fill="#0000ff"/>
<circle cx="381.0" cy="60.0" r="1.9" fill="#0000ff"/>
<circle cx="379.0" cy="66.0" r="1.9" fill="#0000ff"/>
<circle cx="381.0" cy="130.0" r="1.9" fill="#0000ff"/>
<circle cx="380.0" cy="140.0" r="1.9" fill="#0000ff"/>
<circle cx="380.0" cy="150.0" r="1.9" fill="#0000ff"/>
<circle cx="381.0" cy="160.0" r="1.9" fill="#0000ff"/>
<circle cx="380.0" cy="170.0" r="1.9" fill="#0000ff"/>
<circle cx="380.0" cy="180.0" r="1.9" fill="#0000ff"/>
<circle cx="381.0" cy="190.0" r="1.9" fill="#0000ff"/>
<circle cx="382.0" cy="114.0" r="1.9" fill="#0000ff"/>
<circle cx="380.5" cy="28.4" r="1.7" fill="#00bfbf"/>
<circle cx="379.8" cy="72.0" r="1.7" fill="#00bfbf"/>
<circle cx="375.9" cy="39.0" r="1.7" fill="#00bfbf"/>
<circle cx="379.7" cy="28.0" r="1.7" fill="#00bfbf"/>
<circle cx="380.4" cy="34.7" r="1.7" fill="#00bfbf"/>
<circle cx="380.0" cy="27.2" r="1.7" fill="#00bfbf"/>
<circle cx="378.3" cy="71.4" r="1.7" fill="#00bfbf"/>
<circle cx="376.6" cy="34.0" r="1.7" fill="#00bfbf"/>
<circle cx="378.3" cy="37.2" r="1.7" fill="#00bfbf"/>
<circle cx="375.7" cy="29.4" r="1.7" fill="#00bfbf"/>
<circle cx="376.4" cy="72.4" r="1.7" fill="#00bfbf"/>
<circle cx="379.2" cy="70.0" r="1.7" fill="#00bfbf"/>
<circle cx="376.4" cy="63.7" r="1.7" fill="#00bfbf"/>
<circle cx="376.1" cy="49.3" r="1.7" fill="#00bfbf"/>
<circle cx="379.0" cy="39.5" r="1.7" fill="#00bfbf"/>
<circle cx="380.3" cy="50.6" r="1.7" fill="#00bfbf"/>
<circle cx="378.7" cy="69.3" r="1.7" fill="#00bfbf"/>
<circle cx="376.1" cy="75.6" r="1.7" fill="#00bfbf"/>
<circle cx="379.0" cy="41.5" r="1.7" fill="#00bfbf"/>
<circle cx="379.9" cy="34.1" r="1.7" fill="#00bfbf"/>
<circle cx="380.9" cy="51.9" r="1.7" fill="#00bfbf"/>
<circle cx="377.5" cy="62.6" r="1.7" fill="#00bfbf"/>
<circle cx="377.9" cy="29.1" r="1.7" fill="#00bfbf"/>
<circle cx="379.6" cy="21.8" r="1.7" fill="#00bfbf"/>
<circle cx="380.0" cy="33.5" r="1.7" fill="#00bfbf"/>
<circle cx="379.0" cy="75.1" r="1.7" fill="#00bfbf"/>
<circle cx="378.7" cy="56.8" r="1.7" fill="#00bfbf"/>
<circle cx="377.2" cy="19.1" r="1.7" fill="#00bfbf"/>
<circle cx="375.7" cy="27.5" r="1.7" fill="#00bfbf"/>
<circle cx="378.9" cy="43.6" r="1.7" fill="#00bfbf"/>
<circle cx="378.3" cy="70.0" r="1.7" fill="#00bfbf"/>
<circle cx="376.2" cy="32.0" r="1.7" fill="#00bfbf"/>
<circle cx="379.1" cy="20.3" r="1.7" fill="#00bfbf"/>
<circle cx="375.5" cy="39.2" r="1.7" fill="#00bfbf"/>
<circle cx="376.1" cy="39.4" r="1.7" fill="#00bfbf"/>
<circle cx="376.7" cy="52.3" r="1.7" fill="#00bfbf"/>
<circle cx="378.7" cy="30.6" r="1.7" fill="#00bfbf"/>
<circle cx="378.9" cy="46.1" r="1.7" fill="#00bfbf"/>
<circle cx="376.2" cy="72.4" r="1.7" fill="#00bfbf"/>
<circle cx="376.8" cy="27.5" r="1.7" fill="#00bfbf"/>
<circle cx="376.0" cy="55.4" r="1.7" fill="#00bfbf"/>
<circle cx="380.3" cy="63.6" r="1.7" fill="#00bfbf"/>
<circle cx="377.7" cy="34.1" r="1.7" fill="#00bfbf"/>
<circle cx="375.6" cy="55.8" r="1.7" fill="#00bfbf"/>
<circle cx="378.6" cy="39.0" r="1.7" fill="#00bfbf"/>
<circle cx="376.0" cy="85.0" r="1.9" fill="#00bfbf"/>
<circle cx="377.0" cy="100.0" r="1.9" fill="#00bfbf"/>
<circle cx="376.0" cy="112.0" r="1.9" fill="#00bfbf"/>
<circle cx="396.2" cy="25.0" r="1.9" fill="#00bfbf"/>
<circle cx="396.0" cy="42.5" r="1.9" fill="#00bfbf"/>
<circle cx="390.0" cy="44.0" r="1.9" fill="#00bfbf"/>
<circle cx="392.0" cy="52.0" r="1.9" fill="#00bfbf"/>
<circle cx="396.0" cy="52.0" r="1.9" fill="#00bfbf"/>
<circle cx="396.0" cy="127.7" r="1.9" fill="#00bfbf"/>
<circle cx="394.0" cy="141.0" r="1.9" fill="#00bfbf"/>
<circle cx="392.0" cy="147.0" r="1.9" fill="#00bfbf"/>
<circle cx="396.0" cy="193.6" r="1.9" fill="#00bfbf"/>
<circle cx="389.0" cy="203.0" r="1.9" fill="#00bfbf"/>
<circle cx="395.0" cy="207.0" r="1.9" fill="#00bfbf"/>
<path d="M387.0 152.0 C388.0 152.2 390.8 153.0 393.0 153.5 C395.2 154.0 398.8 154.8 400.0 155.0" fill="none" stroke="#00bfbf" stroke-width="4.2" stroke-linecap="round" stroke-linejoin="round"/>
<circle cx="388.3" cy="162.7" r="1.9" fill="#ffa500"/>
<polygon points="376.5,195.0 382.0,195.0 381.0,230.0 380.5,251.0 378.5,251.0 377.0,230.0" fill="#0000ff" stroke="#0000ff" stroke-width="3" stroke-linejoin="round"/>
<path d="M388.0 204.0 C389.0 204.2 392.0 205.1 394.0 205.5 C396.0 205.9 399.0 206.3 400.0 206.5" fill="none" stroke="#00bfbf" stroke-width="4" stroke-linecap="round" stroke-linejoin="round"/>
<path d="M379.0 198.0 C379.7 198.8 381.5 201.5 383.0 203.0 C384.5 204.5 386.0 205.8 388.0 207.0 C390.0 208.2 392.2 209.2 395.0 210.0 C397.8 210.8 402.0 211.1 405.0 211.5 C408.0 211.9 410.7 212.7 413.0 212.5 C415.3 212.3 417.3 211.3 419.0 210.5 C420.7 209.7 421.5 207.8 423.0 207.5 C424.5 207.2 427.2 208.8 428.0 209.0" fill="none" stroke="#0000ff" stroke-width="4.8" stroke-linecap="round" stroke-linejoin="round"/>
<polyline points="378.3,205.0 378.8,245.0" fill="none" stroke="#00bfbf" stroke-width="2" stroke-linecap="round" stroke-linejoin="round"/>
<polyline points="388.5,229.0 400.0,234.0" fill="none" stroke="#00bfbf" stroke-width="3.2" stroke-linecap="round" stroke-linejoin="round"/>
<polyline points="388.5,242.5 401.0,247.0" fill="none" stroke="#00bfbf" stroke-width="3.2" stroke-linecap="round" stroke-linejoin="round"/>
<polygon points="389.0,251.0 401.0,252.5 401.0,260.0 389.0,260.0" fill="#00bfbf" stroke="#00bfbf" stroke-width="3" stroke-linejoin="round"/>
<path d="M401.0 261.0 C402.5 261.1 407.2 261.8 410.0 261.5 C412.8 261.2 415.0 260.2 418.0 259.0 C421.0 257.8 426.3 255.2 428.0 254.5" fill="none" stroke="#00bfbf" stroke-width="5" stroke-linecap="round" stroke-linejoin="round"/>
<circle cx="396.5" cy="254.9" r="1.7" fill="#00bfbf"/>
<circle cx="401.0" cy="259.1" r="1.7" fill="#00bfbf"/>
<circle cx="390.4" cy="261.6" r="1.7" fill="#00bfbf"/>
<circle cx="387.2" cy="256.2" r="1.7" fill="#00bfbf"/>
<circle cx="392.8" cy="251.9" r="1.7" fill="#00bfbf"/>
<circle cx="387.4" cy="259.8" r="1.7" fill="#00bfbf"/>
<circle cx="386.7" cy="256.5" r="1.7" fill="#00bfbf"/>
<circle cx="401.1" cy="250.6" r="1.7" fill="#00bfbf"/>
<circle cx="389.6" cy="257.3" r="1.7" fill="#00bfbf"/>
<circle cx="394.4" cy="257.8" r="1.7" fill="#00bfbf"/>
<circle cx="399.1" cy="251.0" r="1.7" fill="#00bfbf"/>
<circle cx="391.3" cy="252.9" r="1.7" fill="#00bfbf"/>
<circle cx="387.3" cy="261.4" r="1.7" fill="#00bfbf"/>
<circle cx="398.6" cy="258.9" r="1.7" fill="#00bfbf"/>
<circle cx="386.6" cy="260.7" r="1.7" fill="#00bfbf"/>
<circle cx="398.1" cy="255.2" r="1.7" fill="#00bfbf"/>
<circle cx="398.0" cy="255.1" r="1.7" fill="#00bfbf"/>
<circle cx="390.0" cy="250.0" r="1.7" fill="#00bfbf"/>
<circle cx="390.1" cy="249.1" r="1.7" fill="#00bfbf"/>
<circle cx="391.7" cy="259.4" r="1.7" fill="#00bfbf"/>
<circle cx="397.3" cy="260.8" r="1.7" fill="#00bfbf"/>
<circle cx="397.5" cy="252.4" r="1.7" fill="#00bfbf"/>
<circle cx="395.1" cy="254.8" r="1.7" fill="#00bfbf"/>
<circle cx="398.7" cy="256.1" r="1.7" fill="#00bfbf"/>
<circle cx="390.6" cy="257.8" r="1.7" fill="#00bfbf"/>
<circle cx="401.5" cy="251.6" r="1.7" fill="#00bfbf"/>
<circle cx="388.0" cy="244.0" r="1.8" fill="#ffa500"/>
<polyline points="380.2,252.0 380.0,258.0" fill="none" stroke="#ffa500" stroke-width="4" stroke-linecap="round" stroke-linejoin="round"/>
<circle cx="388.0" cy="267.0" r="1.9" fill="#ffa500"/>
<path d="M387.9 271.9 C389.9 272.0 397.0 272.4 400.0 272.8 C403.0 273.2 403.9 274.2 406.0 274.5 C408.1 274.8 410.4 275.1 412.6 274.5 C414.8 273.9 417.3 272.0 419.0 271.0 C420.7 270.0 421.5 268.7 423.0 268.5 C424.5 268.3 427.2 269.8 428.0 270.0" fill="none" stroke="#ffa500" stroke-width="5" stroke-linecap="round" stroke-linejoin="round"/></g>
<g fill="none" stroke-width="1.8">
<rect x="98.6" y="16.2" width="37.9" height="263.0" rx="6" stroke="#ff2b2b"/>
<rect x="145.1" y="17.4" width="81.2" height="262.0" rx="12" stroke="#ffff00"/>
<rect x="237.3" y="18" width="49.8" height="261.4" rx="10" stroke="#98d268"/>
<rect x="292.6" y="17.4" width="49.6" height="262.0" rx="10" stroke="#22b0ee"/>
<rect x="373.6" y="17.4" width="28.0" height="262.0" rx="5" stroke="#f9a030"/>
<rect x="344.6" y="19.4" width="29.6" height="260.0" rx="6" stroke="#f52cf0"/>
<rect x="403.4" y="17.4" width="29.6" height="262.0" rx="7" stroke="#8a48b8"/>
</g>
<g stroke="#707070" stroke-width="1.5" fill="none">
<path d="M85.8 15.799999999999999V281.5H444.6V15.799999999999999H85.8"/>
<path d="M81.8 16.2H85.8 M81.8 60.4H85.8 M81.8 104.6H85.8 M81.8 148.8H85.8 M81.8 193.1H85.8 M81.8 237.3H85.8 M81.8 281.5H85.8 M103.2 281.5V285.5 M149.2 281.5V285.5 M195.2 281.5V285.5 M241.2 281.5V285.5 M287.2 281.5V285.5 M333.2 281.5V285.5 M379.2 281.5V285.5 M425.2 281.5V285.5 M444.6 281.5H448.6 M444.6 248.3H448.6 M444.6 215.2H448.6 M444.6 182.0H448.6 M444.6 148.8H448.6 M444.6 115.7H448.6 M444.6 82.5H448.6 M444.6 49.4H448.6 M444.6 16.2H448.6"/>
</g>
<g font-family="Liberation Sans" font-size="10.5" fill="#262626" letter-spacing="0.75">
<text x="79.8" y="21.1" text-anchor="end">500</text>
<text x="79.8" y="65.3" text-anchor="end">0</text>
<text x="79.8" y="109.5" text-anchor="end">−500</text>
<text x="79.8" y="153.8" text-anchor="end">−1000</text>
<text x="79.8" y="198.0" text-anchor="end">−1500</text>
<text x="79.8" y="242.2" text-anchor="end">−2000</text>
<text x="79.8" y="286.4" text-anchor="end">−2500</text>
<text x="103.2" y="297.5" text-anchor="middle">0</text>
<text x="149.2" y="297.5" text-anchor="middle">1</text>
<text x="195.2" y="297.5" text-anchor="middle">2</text>
<text x="241.2" y="297.5" text-anchor="middle">3</text>
<text x="287.2" y="297.5" text-anchor="middle">4</text>
<text x="333.2" y="297.5" text-anchor="middle">5</text>
<text x="379.2" y="297.5" text-anchor="middle">6</text>
<text x="425.2" y="297.5" text-anchor="middle">7</text>
<text x="452.40000000000003" y="286.2">1</text>
<text x="452.40000000000003" y="253.0">2</text>
<text x="452.40000000000003" y="219.9">3</text>
<text x="452.40000000000003" y="186.7">4</text>
<text x="452.40000000000003" y="153.5">5</text>
<text x="452.40000000000003" y="120.4">6</text>
<text x="452.40000000000003" y="87.2">7</text>
<text x="452.40000000000003" y="54.1">8</text>
<text x="452.40000000000003" y="20.9">9</text>
</g>
<g font-family="Liberation Sans" font-size="10.5" fill="#333">
<text x="265.1" y="311" text-anchor="middle" textLength="60" lengthAdjust="spacingAndGlyphs" font-size="10.6">Time (days)</text>
<text transform="translate(38.8 150.1) rotate(-90)" text-anchor="middle" textLength="99.3" lengthAdjust="spacingAndGlyphs" font-size="10.6">Strain (microstrain)</text>
<text transform="translate(469.8 149.5) rotate(-90)" text-anchor="middle" textLength="88.6" lengthAdjust="spacingAndGlyphs" font-size="10.6">Resistance (ohm)</text>
</g>
<g fill="none" stroke="#dcdcdc" stroke-width="1">
<path d="M493.1 319.5V135.2Q493.1 132.7 495.6 132.7H589Q591.5 132.7 591.5 135.2V350Q591.5 352.5 589 352.5H494.3Q491.8 352.5 491.8 350V319.5"/>
</g>
<g font-family="Liberation Sans" font-size="8.2" fill="#2a2a2a" letter-spacing="0.42">
<text x="517.9" y="141.5">Virola</text>
<text x="517.9" y="153.5">Lado 1</text>
<text x="517.9" y="165.4">Debajo filament 1</text>
<text x="517.9" y="177.4">AS4 1</text>
<circle cx="503.4" cy="175.2" r="1.9" fill="#b22222"/>
<text x="517.9" y="189.3">AS4 2</text>
<circle cx="503.4" cy="187.1" r="1.9" fill="#ff0000"/>
<text x="517.9" y="201.3">Debajo filament 2</text>
<text x="517.9" y="213.3">AS1 1</text>
<circle cx="503.4" cy="211.1" r="1.9" fill="#ffa500"/>
<text x="517.9" y="237.2">Lado 2</text>
<text x="517.9" y="249.1">Debajo filament 1</text>
<text x="517.9" y="261.1">AS3 1</text>
<circle cx="503.4" cy="258.9" r="1.9" fill="#00008b"/>
<text x="517.9" y="273.1">AS3 2</text>
<circle cx="503.4" cy="270.9" r="1.9" fill="#008b8b"/>
<text x="517.9" y="285.0">Debajo filament 2</text>
<text x="517.9" y="297.0">AS2 1</text>
<circle cx="503.4" cy="294.8" r="1.9" fill="#0000ff"/>
<text x="517.9" y="308.9">AS2 2</text>
<circle cx="503.4" cy="306.7" r="1.9" fill="#00bfbf"/>
<text x="517.9" y="335.5">DC1</text>
<circle cx="502.5" cy="333.3" r="1.9" fill="#000"/>
<text x="517.9" y="347.5">DC2</text>
<circle cx="502.5" cy="345.3" r="1.9" fill="#888"/>
</g>
</svg>
<svg width="600" height="499" viewBox="0 0 600 499">
<g font-family="Liberation Sans" font-weight="bold" font-size="10.5">
<text transform="translate(588.2 395.5) scale(1 1.13)" fill="#f02828" text-anchor="end" textLength="288.3" lengthAdjust="spacing">Exotermia y primeras horas de curado de la segunda capa</text>
<text transform="translate(590.8 409.4) scale(1 1.13)" fill="#f02828" text-anchor="end" textLength="185.6" lengthAdjust="spacing">(final del segundo día de fabricación)</text>
<text transform="translate(590.8 424.1) scale(1 1.13)" fill="#ffd862" text-anchor="end" textLength="72.5" lengthAdjust="spacing">Fin de semana</text>
<text transform="translate(590.8 438.1) scale(1 1.13)" fill="#70ad47" text-anchor="end" textLength="199.6" lengthAdjust="spacing">Desmoldeo, traslado y corte de la virola</text>
<text transform="translate(590.8 452.5) scale(1 1.13)" fill="#5b9bd5" text-anchor="end" textLength="301.4" lengthAdjust="spacing">Pulido de los bordes de la virola y ensamblaje fondo inferior</text>
<text transform="translate(590.8 466.8) scale(1 1.13)" fill="#e82ce8" text-anchor="end" textLength="134.5" lengthAdjust="spacing">Ensamblaje fondo superior</text>
<text transform="translate(590.8 481.3) scale(1 1.13)" fill="#f0903a" text-anchor="end" textLength="56.8" lengthAdjust="spacing">Postcurado</text>
<text transform="translate(590.8 495.7) scale(1 1.13)" fill="#7030a0" text-anchor="end" textLength="95.6" lengthAdjust="spacing">Ensayos mecánicos</text>
</g></svg>
</body></html>
